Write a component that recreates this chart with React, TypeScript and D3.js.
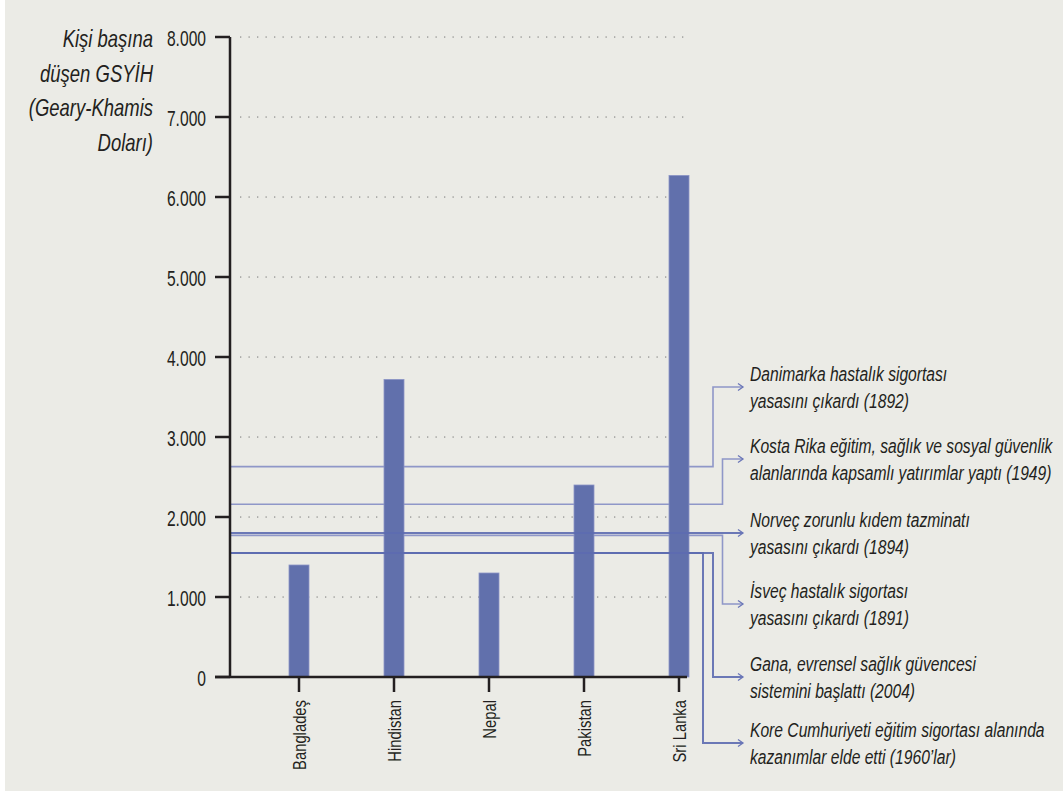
import React from "react";
import * as d3 from "d3";

const countries = ["Bangladeş", "Hindistan", "Nepal", "Pakistan", "Sri Lanka"];
const gdpValues = [1400, 3720, 1300, 2400, 6270];
const yTicks = [0, 1000, 2000, 3000, 4000, 5000, 6000, 7000, 8000];
const yTitle = ["Kişi başına", "düşen GSYİH", "(Geary-Khamis", "Doları)"];

const refNames = ["Danimarka", "Kosta Rika", "Norveç", "İsveç", "Gana", "Kore"];
const refValues = [2630, 2160, 1800, 1770, 1550, 1550];
const refLabels = [
  ["Danimarka hastalık sigortası", "yasasını çıkardı (1892)"],
  ["Kosta Rika eğitim, sağlık ve sosyal güvenlik", "alanlarında kapsamlı yatırımlar yaptı (1949)"],
  ["Norveç zorunlu kıdem tazminatı", "yasasını çıkardı (1894)"],
  ["İsveç hastalık sigortası", "yasasını çıkardı (1891)"],
  ["Gana, evrensel sağlık güvencesi", "sistemini başlattı (2004)"],
  ["Kore Cumhuriyeti eğitim sigortası alanında", "kazanımlar elde etti (1960’lar)"],
];

// layout of annotation callouts
const calloutY = [387, 459, 533, 604, 677, 743];
const elbowX = [713, 722.5, null, 722.5, 713, 703];
const onTop = [false, false, true, false, true, true];

const FONT = "'Liberation Sans', Arial, sans-serif";
const fmt = (v: number) => (v === 0 ? "0" : d3.format(",")(v).replace(/,/g, "."));

type CTProps = {
  x: number;
  y: number;
  size: number;
  sx: number;
  anchor?: string;
  italic?: boolean;
  rotate?: number;
  children: React.ReactNode;
};
function CText({ x, y, size, sx, anchor = "start", italic = false, rotate = 0, children }: CTProps) {
  return (
    <text
      transform={`translate(${x},${y}) rotate(${rotate}) scale(${sx},1)`}
      dy="0.35em"
      textAnchor={anchor}
      fontFamily={FONT}
      fontStyle={italic ? "italic" : "normal"}
      fontSize={size}
      fill="#231f20"
    >
      {children}
    </text>
  );
}

export default function App() {
  const W = 1063;
  const H = 793;
  const y = d3.scaleLinear().domain([0, 8000]).range([677, 37]);
  const x = d3.scalePoint<string>().domain(countries).range([299, 679]);
  const barW = 20;
  const axisX = 230;
  const arrowEnd = 743;
  const labelX = 750;

  const dots = d3.range(240, 686, 8.5);

  const refPath = (i: number) => {
    const yy = y(refValues[i]);
    const ex = elbowX[i];
    if (ex == null) return `M${axisX},${yy}H${arrowEnd}`;
    return `M${axisX},${yy}H${ex}V${calloutY[i]}H${arrowEnd}`;
  };
  const arrowHead = (i: number) => {
    const ay = calloutY[i];
    return `M${arrowEnd - 5},${ay - 3.5}L${arrowEnd},${ay}L${arrowEnd - 5},${ay + 3.5}`;
  };
  const refLine = (i: number) => (
    <g key={refNames[i]}>
      <path
        d={refPath(i)}
        fill="none"
        stroke={onTop[i] ? "#5d6bb0" : "#8f97c8"}
        strokeWidth={onTop[i] ? 2 : 1.6}
        opacity={onTop[i] ? 0.9 : 1}
      />
      <path d={arrowHead(i)} fill="none" stroke="#6a76b8" strokeWidth={1.3} />
    </g>
  );

  return (
    <svg width={W} height={H} style={{ position: "absolute", left: 0, top: 0 }}>
      <rect x={0} y={0} width={W} height={H} fill="#ffffff" />
      <rect x={5} y={0} width={W - 5} height={791} fill="#ebebe6" />

      {/* y title */}
      {yTitle.map((t, i) => (
        <CText key={t} x={153} y={39 + i * 34.5} size={24} sx={0.77} anchor="end" italic>
          {t}
        </CText>
      ))}

      {/* dotted gridlines */}
      {yTicks.filter((t) => t > 0).map((t) => (
        <g key={"g" + t}>
          {dots.map((dx) => (
            <rect key={dx} x={dx} y={y(t) - 0.6} width={1.3} height={1.3} fill="#929290" />
          ))}
        </g>
      ))}

      {/* reference lines behind bars */}
      {refNames.map((_, i) => (!onTop[i] ? refLine(i) : null))}

      {/* bars */}
      {countries.map((c, i) => (
        <rect
          key={c}
          x={(x(c) as number) - barW / 2}
          y={y(gdpValues[i])}
          width={barW}
          height={y(0) - y(gdpValues[i])}
          fill="#6170ac"
          stroke="#8c95c6"
          strokeWidth={0.8}
        />
      ))}

      {/* reference lines on top */}
      {refNames.map((_, i) => (onTop[i] ? refLine(i) : null))}

      {/* y axis */}
      <line x1={axisX} x2={axisX} y1={y(8000)} y2={y(0)} stroke="#231f20" strokeWidth={2.5} />
      {yTicks.map((t) => (
        <g key={"t" + t}>
          <line x1={215} x2={axisX} y1={y(t)} y2={y(t)} stroke="#231f20" strokeWidth={2.5} />
          <CText x={206} y={y(t) + 1} size={22} sx={0.71} anchor="end">
            {fmt(t)}
          </CText>
        </g>
      ))}

      {/* x axis */}
      <line x1={215} x2={687} y1={y(0)} y2={y(0)} stroke="#231f20" strokeWidth={2.5} />
      {countries.map((c) => {
        const cx = x(c) as number;
        return (
          <g key={"x" + c}>
            <line x1={cx} x2={cx} y1={y(0)} y2={692} stroke="#231f20" strokeWidth={2.5} />
            <CText x={cx} y={700} size={19} sx={0.78} anchor="end" rotate={-90}>
              {c}
            </CText>
          </g>
        );
      })}

      {/* annotation labels */}
      {refLabels.map((lines, i) =>
        lines.map((t, j) => (
          <CText key={refNames[i] + j} x={labelX} y={calloutY[i] - 13 + j * 26.5} size={21} sx={0.745} italic>
            {t}
          </CText>
        ))
      )}
    </svg>
  );
}
